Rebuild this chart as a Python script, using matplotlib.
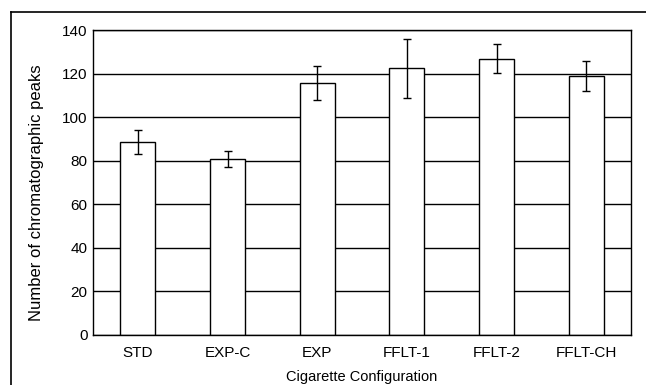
import matplotlib
matplotlib.use("Agg")
import matplotlib.pyplot as plt
from matplotlib.lines import Line2D

plt.rcParams['font.family'] = ['Liberation Sans', 'DejaVu Sans']

# data
configs = ["STD", "EXP-C", "EXP", "FFLT-1", "FFLT-2", "FFLT-CH"]
peaks = [88.7, 80.9, 115.5, 122.4, 126.9, 118.9]
errors = [5.5, 3.6, 7.8, 13.5, 6.7, 6.7]
yticks = [0, 20, 40, 60, 80, 100, 120, 140]

fig = plt.figure(figsize=(6.46, 3.85), dpi=100)
ax = fig.add_axes([0.144, 0.130, 0.833, 0.792])

x = [i + 0.5 for i in range(len(configs))]
ax.bar(x, peaks, width=0.39, color='white', edgecolor='black', linewidth=1.0, zorder=2)
ax.errorbar(x, peaks, yerr=errors, fmt='none', ecolor='black', elinewidth=1.0,
            capsize=3, capthick=1.0, zorder=3)

ax.set_xlim(0, len(configs))
ax.set_ylim(0, 140)
ax.set_yticks(yticks)
ax.set_xticks(x)
ax.set_xticklabels(configs)
ax.tick_params(length=0, labelsize=11)
ax.tick_params(axis='x', pad=8)
ax.tick_params(axis='y', pad=4)
ax.yaxis.grid(True, color='black', linewidth=1.0, zorder=0)
ax.set_axisbelow(True)
for s in ax.spines.values():
    s.set_linewidth(1.0)

ax.set_ylabel("Number of chromatographic peaks", fontsize=12)
ax.yaxis.set_label_coords(-0.092, 0.467)
ax.set_xlabel("Cigarette Configuration", fontsize=10.5, labelpad=7)

# outer frame of the figure panel (cut at right and bottom)
fig.add_artist(Line2D([10.5 / 646, 10.5 / 646], [0, 1 - 12 / 385], color='black', linewidth=1.2))
fig.add_artist(Line2D([10.5 / 646, 1], [1 - 12 / 385, 1 - 12 / 385], color='black', linewidth=1.2))

fig.savefig("out.png", dpi=100)
